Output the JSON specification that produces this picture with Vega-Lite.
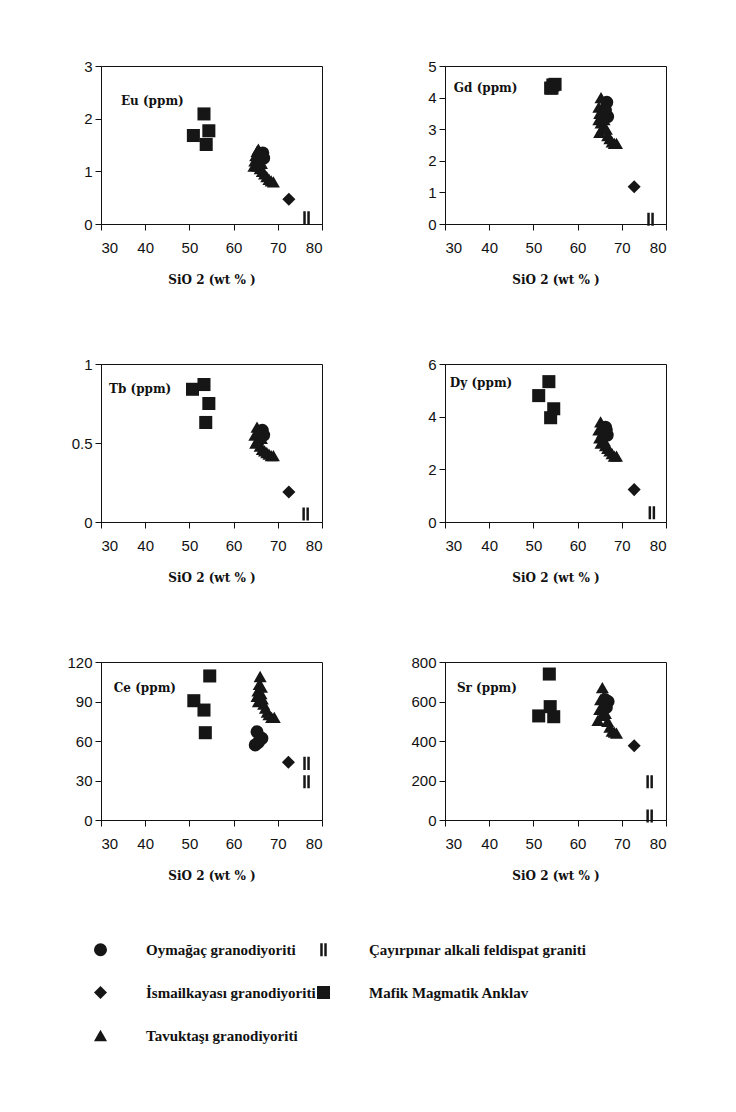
{
  "$schema": "https://vega.github.io/schema/vega-lite/v6.json",
  "padding": {"left": 66, "top": 58, "right": 5, "bottom": 5},
  "background": "white",
  "data": {"values": [
    {"el":"Eu","g":"Mafik Magmatik Anklav","sio2":53.3,"v":2.09},
    {"el":"Eu","g":"Mafik Magmatik Anklav","sio2":50.9,"v":1.68},
    {"el":"Eu","g":"Mafik Magmatik Anklav","sio2":54.4,"v":1.77},
    {"el":"Eu","g":"Mafik Magmatik Anklav","sio2":53.8,"v":1.51},
    {"el":"Eu","g":"Oymağaç granodiyoriti","sio2":66.6,"v":1.35},
    {"el":"Eu","g":"Oymağaç granodiyoriti","sio2":66.2,"v":1.3},
    {"el":"Eu","g":"Oymağaç granodiyoriti","sio2":66.8,"v":1.25},
    {"el":"Eu","g":"Tavuktaşı granodiyoriti","sio2":64.6,"v":1.1},
    {"el":"Eu","g":"Tavuktaşı granodiyoriti","sio2":64.8,"v":1.2},
    {"el":"Eu","g":"Tavuktaşı granodiyoriti","sio2":65.0,"v":1.3},
    {"el":"Eu","g":"Tavuktaşı granodiyoriti","sio2":65.3,"v":1.38},
    {"el":"Eu","g":"Tavuktaşı granodiyoriti","sio2":65.6,"v":1.42},
    {"el":"Eu","g":"Tavuktaşı granodiyoriti","sio2":65.8,"v":1.25},
    {"el":"Eu","g":"Tavuktaşı granodiyoriti","sio2":65.5,"v":1.1},
    {"el":"Eu","g":"Tavuktaşı granodiyoriti","sio2":66.0,"v":1.05},
    {"el":"Eu","g":"Tavuktaşı granodiyoriti","sio2":66.3,"v":1.15},
    {"el":"Eu","g":"Tavuktaşı granodiyoriti","sio2":66.5,"v":1.0},
    {"el":"Eu","g":"Tavuktaşı granodiyoriti","sio2":67.0,"v":0.95},
    {"el":"Eu","g":"Tavuktaşı granodiyoriti","sio2":67.5,"v":0.9},
    {"el":"Eu","g":"Tavuktaşı granodiyoriti","sio2":68.0,"v":0.85},
    {"el":"Eu","g":"Tavuktaşı granodiyoriti","sio2":68.5,"v":0.82},
    {"el":"Eu","g":"Tavuktaşı granodiyoriti","sio2":69.0,"v":0.8},
    {"el":"Eu","g":"İsmailkayası granodiyoriti","sio2":72.5,"v":0.47},
    {"el":"Eu","g":"Çayırpınar alkali feldispat graniti","sio2":76.5,"v":0.12},

    {"el":"Gd","g":"Mafik Magmatik Anklav","sio2":53.9,"v":4.3},
    {"el":"Gd","g":"Mafik Magmatik Anklav","sio2":54.4,"v":4.4},
    {"el":"Gd","g":"Mafik Magmatik Anklav","sio2":54.9,"v":4.42},
    {"el":"Gd","g":"Mafik Magmatik Anklav","sio2":54.2,"v":4.3},
    {"el":"Gd","g":"Oymağaç granodiyoriti","sio2":66.6,"v":3.85},
    {"el":"Gd","g":"Oymağaç granodiyoriti","sio2":66.3,"v":3.6},
    {"el":"Gd","g":"Oymağaç granodiyoriti","sio2":66.8,"v":3.4},
    {"el":"Gd","g":"Tavuktaşı granodiyoriti","sio2":65.3,"v":4.0},
    {"el":"Gd","g":"Tavuktaşı granodiyoriti","sio2":64.8,"v":3.7},
    {"el":"Gd","g":"Tavuktaşı granodiyoriti","sio2":65.0,"v":3.5},
    {"el":"Gd","g":"Tavuktaşı granodiyoriti","sio2":64.8,"v":3.3},
    {"el":"Gd","g":"Tavuktaşı granodiyoriti","sio2":65.3,"v":3.2},
    {"el":"Gd","g":"Tavuktaşı granodiyoriti","sio2":65.5,"v":3.0},
    {"el":"Gd","g":"Tavuktaşı granodiyoriti","sio2":65.0,"v":2.9},
    {"el":"Gd","g":"Tavuktaşı granodiyoriti","sio2":65.8,"v":3.6},
    {"el":"Gd","g":"Tavuktaşı granodiyoriti","sio2":66.0,"v":3.3},
    {"el":"Gd","g":"Tavuktaşı granodiyoriti","sio2":66.5,"v":3.0},
    {"el":"Gd","g":"Tavuktaşı granodiyoriti","sio2":66.8,"v":2.8},
    {"el":"Gd","g":"Tavuktaşı granodiyoriti","sio2":67.3,"v":2.7},
    {"el":"Gd","g":"Tavuktaşı granodiyoriti","sio2":67.8,"v":2.6},
    {"el":"Gd","g":"Tavuktaşı granodiyoriti","sio2":68.3,"v":2.55},
    {"el":"Gd","g":"Tavuktaşı granodiyoriti","sio2":68.8,"v":2.55},
    {"el":"Gd","g":"İsmailkayası granodiyoriti","sio2":72.8,"v":1.18},
    {"el":"Gd","g":"Çayırpınar alkali feldispat graniti","sio2":76.5,"v":0.15},

    {"el":"Tb","g":"Mafik Magmatik Anklav","sio2":50.7,"v":0.84},
    {"el":"Tb","g":"Mafik Magmatik Anklav","sio2":53.3,"v":0.87},
    {"el":"Tb","g":"Mafik Magmatik Anklav","sio2":54.4,"v":0.75},
    {"el":"Tb","g":"Mafik Magmatik Anklav","sio2":53.7,"v":0.63},
    {"el":"Tb","g":"Oymağaç granodiyoriti","sio2":66.5,"v":0.58},
    {"el":"Tb","g":"Oymağaç granodiyoriti","sio2":66.8,"v":0.55},
    {"el":"Tb","g":"Tavuktaşı granodiyoriti","sio2":65.3,"v":0.6},
    {"el":"Tb","g":"Tavuktaşı granodiyoriti","sio2":64.8,"v":0.55},
    {"el":"Tb","g":"Tavuktaşı granodiyoriti","sio2":65.0,"v":0.5},
    {"el":"Tb","g":"Tavuktaşı granodiyoriti","sio2":65.5,"v":0.52},
    {"el":"Tb","g":"Tavuktaşı granodiyoriti","sio2":65.8,"v":0.57},
    {"el":"Tb","g":"Tavuktaşı granodiyoriti","sio2":66.0,"v":0.48},
    {"el":"Tb","g":"Tavuktaşı granodiyoriti","sio2":66.3,"v":0.53},
    {"el":"Tb","g":"Tavuktaşı granodiyoriti","sio2":66.5,"v":0.46},
    {"el":"Tb","g":"Tavuktaşı granodiyoriti","sio2":67.0,"v":0.45},
    {"el":"Tb","g":"Tavuktaşı granodiyoriti","sio2":67.5,"v":0.44},
    {"el":"Tb","g":"Tavuktaşı granodiyoriti","sio2":68.0,"v":0.43},
    {"el":"Tb","g":"Tavuktaşı granodiyoriti","sio2":68.5,"v":0.42},
    {"el":"Tb","g":"Tavuktaşı granodiyoriti","sio2":69.0,"v":0.42},
    {"el":"Tb","g":"İsmailkayası granodiyoriti","sio2":72.5,"v":0.19},
    {"el":"Tb","g":"Çayırpınar alkali feldispat graniti","sio2":76.3,"v":0.05},

    {"el":"Dy","g":"Mafik Magmatik Anklav","sio2":53.5,"v":5.33},
    {"el":"Dy","g":"Mafik Magmatik Anklav","sio2":51.2,"v":4.8},
    {"el":"Dy","g":"Mafik Magmatik Anklav","sio2":54.6,"v":4.3},
    {"el":"Dy","g":"Mafik Magmatik Anklav","sio2":53.9,"v":3.96},
    {"el":"Dy","g":"Oymağaç granodiyoriti","sio2":66.5,"v":3.5},
    {"el":"Dy","g":"Oymağaç granodiyoriti","sio2":66.7,"v":3.3},
    {"el":"Dy","g":"Oymağaç granodiyoriti","sio2":66.3,"v":3.6},
    {"el":"Dy","g":"Tavuktaşı granodiyoriti","sio2":65.2,"v":3.8},
    {"el":"Dy","g":"Tavuktaşı granodiyoriti","sio2":64.8,"v":3.5},
    {"el":"Dy","g":"Tavuktaşı granodiyoriti","sio2":65.0,"v":3.2},
    {"el":"Dy","g":"Tavuktaşı granodiyoriti","sio2":65.3,"v":3.0},
    {"el":"Dy","g":"Tavuktaşı granodiyoriti","sio2":65.5,"v":3.6},
    {"el":"Dy","g":"Tavuktaşı granodiyoriti","sio2":65.7,"v":3.4},
    {"el":"Dy","g":"Tavuktaşı granodiyoriti","sio2":66.0,"v":3.1},
    {"el":"Dy","g":"Tavuktaşı granodiyoriti","sio2":66.3,"v":2.9},
    {"el":"Dy","g":"Tavuktaşı granodiyoriti","sio2":66.8,"v":2.8},
    {"el":"Dy","g":"Tavuktaşı granodiyoriti","sio2":67.3,"v":2.7},
    {"el":"Dy","g":"Tavuktaşı granodiyoriti","sio2":67.8,"v":2.6},
    {"el":"Dy","g":"Tavuktaşı granodiyoriti","sio2":68.3,"v":2.5},
    {"el":"Dy","g":"Tavuktaşı granodiyoriti","sio2":68.8,"v":2.5},
    {"el":"Dy","g":"İsmailkayası granodiyoriti","sio2":72.8,"v":1.23},
    {"el":"Dy","g":"Çayırpınar alkali feldispat graniti","sio2":76.8,"v":0.35},

    {"el":"Ce","g":"Mafik Magmatik Anklav","sio2":54.6,"v":109.4},
    {"el":"Ce","g":"Mafik Magmatik Anklav","sio2":51.0,"v":90.6},
    {"el":"Ce","g":"Mafik Magmatik Anklav","sio2":53.3,"v":83.5},
    {"el":"Ce","g":"Mafik Magmatik Anklav","sio2":53.6,"v":66.3},
    {"el":"Ce","g":"Oymağaç granodiyoriti","sio2":65.3,"v":67},
    {"el":"Ce","g":"Oymağaç granodiyoriti","sio2":64.9,"v":57},
    {"el":"Ce","g":"Oymağaç granodiyoriti","sio2":66.4,"v":62},
    {"el":"Ce","g":"Oymağaç granodiyoriti","sio2":65.6,"v":59},
    {"el":"Ce","g":"Tavuktaşı granodiyoriti","sio2":66.0,"v":109},
    {"el":"Ce","g":"Tavuktaşı granodiyoriti","sio2":65.8,"v":103},
    {"el":"Ce","g":"Tavuktaşı granodiyoriti","sio2":66.3,"v":101},
    {"el":"Ce","g":"Tavuktaşı granodiyoriti","sio2":65.5,"v":98},
    {"el":"Ce","g":"Tavuktaşı granodiyoriti","sio2":65.3,"v":94},
    {"el":"Ce","g":"Tavuktaşı granodiyoriti","sio2":65.6,"v":90},
    {"el":"Ce","g":"Tavuktaşı granodiyoriti","sio2":66.2,"v":96},
    {"el":"Ce","g":"Tavuktaşı granodiyoriti","sio2":66.5,"v":92},
    {"el":"Ce","g":"Tavuktaşı granodiyoriti","sio2":66.8,"v":88},
    {"el":"Ce","g":"Tavuktaşı granodiyoriti","sio2":67.2,"v":85},
    {"el":"Ce","g":"Tavuktaşı granodiyoriti","sio2":67.6,"v":82},
    {"el":"Ce","g":"Tavuktaşı granodiyoriti","sio2":68.0,"v":80},
    {"el":"Ce","g":"Tavuktaşı granodiyoriti","sio2":68.6,"v":78},
    {"el":"Ce","g":"Tavuktaşı granodiyoriti","sio2":69.2,"v":78},
    {"el":"Ce","g":"İsmailkayası granodiyoriti","sio2":72.4,"v":43.8},
    {"el":"Ce","g":"Çayırpınar alkali feldispat graniti","sio2":76.5,"v":43},
    {"el":"Ce","g":"Çayırpınar alkali feldispat graniti","sio2":76.5,"v":29},

    {"el":"Sr","g":"Mafik Magmatik Anklav","sio2":53.6,"v":739},
    {"el":"Sr","g":"Mafik Magmatik Anklav","sio2":51.2,"v":527},
    {"el":"Sr","g":"Mafik Magmatik Anklav","sio2":53.8,"v":574},
    {"el":"Sr","g":"Mafik Magmatik Anklav","sio2":54.6,"v":523},
    {"el":"Sr","g":"Oymağaç granodiyoriti","sio2":66.9,"v":600},
    {"el":"Sr","g":"Oymağaç granodiyoriti","sio2":66.5,"v":570},
    {"el":"Sr","g":"Oymağaç granodiyoriti","sio2":66.2,"v":610},
    {"el":"Sr","g":"Tavuktaşı granodiyoriti","sio2":65.6,"v":670},
    {"el":"Sr","g":"Tavuktaşı granodiyoriti","sio2":65.8,"v":620},
    {"el":"Sr","g":"Tavuktaşı granodiyoriti","sio2":65.2,"v":610},
    {"el":"Sr","g":"Tavuktaşı granodiyoriti","sio2":65.0,"v":560},
    {"el":"Sr","g":"Tavuktaşı granodiyoriti","sio2":64.6,"v":505},
    {"el":"Sr","g":"Tavuktaşı granodiyoriti","sio2":65.5,"v":530},
    {"el":"Sr","g":"Tavuktaşı granodiyoriti","sio2":66.0,"v":580},
    {"el":"Sr","g":"Tavuktaşı granodiyoriti","sio2":66.3,"v":540},
    {"el":"Sr","g":"Tavuktaşı granodiyoriti","sio2":66.8,"v":500},
    {"el":"Sr","g":"Tavuktaşı granodiyoriti","sio2":67.3,"v":470},
    {"el":"Sr","g":"Tavuktaşı granodiyoriti","sio2":67.8,"v":450},
    {"el":"Sr","g":"Tavuktaşı granodiyoriti","sio2":68.3,"v":445},
    {"el":"Sr","g":"Tavuktaşı granodiyoriti","sio2":68.8,"v":440},
    {"el":"Sr","g":"İsmailkayası granodiyoriti","sio2":72.8,"v":376},
    {"el":"Sr","g":"Çayırpınar alkali feldispat graniti","sio2":76.3,"v":194},
    {"el":"Sr","g":"Çayırpınar alkali feldispat graniti","sio2":76.3,"v":20}
  ]},
  "columns": 2,
  "spacing": {"row": 70, "column": 87},
  "resolve": {"scale": {"shape": "shared"}},
  "concat": [
    {"width": 221, "height": 158, "layer": [
      {"transform": [{"filter": "datum.el == 'Eu'"}],
       "mark": {"type": "point", "filled": true, "opacity": 1, "size": 170, "color": "#161616"},
       "encoding": {
         "x": {"field": "sio2", "type": "quantitative", "scale": {"domain": [30, 80], "nice": false, "zero": false}, "axis": {"values": [30, 40, 50, 60, 70, 80], "tickCount": 20, "title": "SiO 2 (wt % )"}},
         "y": {"field": "v", "type": "quantitative", "scale": {"domain": [0, 3], "nice": false}, "axis": {"values": [0, 1, 2, 3], "tickCount": 20, "title": null}},
         "shape": {"field": "g", "type": "nominal", "title": null,
           "scale": {"domain": ["Oymağaç granodiyoriti", "Çayırpınar alkali feldispat graniti", "İsmailkayası granodiyoriti", "Mafik Magmatik Anklav", "Tavuktaşı granodiyoriti"],
                     "range": ["circle", "M-0.5,-1H-0.12V1H-0.5Z M0.12,-1H0.5V1H0.12Z", "diamond", "square", "triangle-up"]}}
       }},
      {"data": {"values": [{}]}, "mark": {"type": "text", "text": "Eu (ppm)", "align": "left", "baseline": "middle", "font": "DejaVu Serif", "fontWeight": "bold", "fontSize": 12, "color": "#111"},
       "encoding": {"x": {"datum": 34.5}, "y": {"datum": 2.33}}}
    ]},
    {"width": 221, "height": 158, "layer": [
      {"transform": [{"filter": "datum.el == 'Gd'"}],
       "mark": {"type": "point", "filled": true, "opacity": 1, "size": 170, "color": "#161616"},
       "encoding": {
         "x": {"field": "sio2", "type": "quantitative", "scale": {"domain": [30, 80], "nice": false, "zero": false}, "axis": {"values": [30, 40, 50, 60, 70, 80], "tickCount": 20, "title": "SiO 2 (wt % )"}},
         "y": {"field": "v", "type": "quantitative", "scale": {"domain": [0, 5], "nice": false}, "axis": {"values": [0, 1, 2, 3, 4, 5], "tickCount": 20, "title": null}},
         "shape": {"field": "g", "type": "nominal", "title": null}
       }},
      {"data": {"values": [{}]}, "mark": {"type": "text", "text": "Gd (ppm)", "align": "left", "baseline": "middle", "font": "DejaVu Serif", "fontWeight": "bold", "fontSize": 12, "color": "#111"},
       "encoding": {"x": {"datum": 32}, "y": {"datum": 4.3}}}
    ]},
    {"width": 221, "height": 158, "layer": [
      {"transform": [{"filter": "datum.el == 'Tb'"}],
       "mark": {"type": "point", "filled": true, "opacity": 1, "size": 170, "color": "#161616"},
       "encoding": {
         "x": {"field": "sio2", "type": "quantitative", "scale": {"domain": [30, 80], "nice": false, "zero": false}, "axis": {"values": [30, 40, 50, 60, 70, 80], "tickCount": 20, "title": "SiO 2 (wt % )"}},
         "y": {"field": "v", "type": "quantitative", "scale": {"domain": [0, 1], "nice": false}, "axis": {"values": [0, 0.5, 1], "tickCount": 20, "title": null}},
         "shape": {"field": "g", "type": "nominal", "title": null}
       }},
      {"data": {"values": [{}]}, "mark": {"type": "text", "text": "Tb (ppm)", "align": "left", "baseline": "middle", "font": "DejaVu Serif", "fontWeight": "bold", "fontSize": 12, "color": "#111"},
       "encoding": {"x": {"datum": 31.8}, "y": {"datum": 0.84}}}
    ]},
    {"width": 221, "height": 158, "layer": [
      {"transform": [{"filter": "datum.el == 'Dy'"}],
       "mark": {"type": "point", "filled": true, "opacity": 1, "size": 170, "color": "#161616"},
       "encoding": {
         "x": {"field": "sio2", "type": "quantitative", "scale": {"domain": [30, 80], "nice": false, "zero": false}, "axis": {"values": [30, 40, 50, 60, 70, 80], "tickCount": 20, "title": "SiO 2 (wt % )"}},
         "y": {"field": "v", "type": "quantitative", "scale": {"domain": [0, 6], "nice": false}, "axis": {"values": [0, 2, 4, 6], "tickCount": 20, "title": null}},
         "shape": {"field": "g", "type": "nominal", "title": null}
       }},
      {"data": {"values": [{}]}, "mark": {"type": "text", "text": "Dy (ppm)", "align": "left", "baseline": "middle", "font": "DejaVu Serif", "fontWeight": "bold", "fontSize": 12, "color": "#111"},
       "encoding": {"x": {"datum": 31.1}, "y": {"datum": 5.27}}}
    ]},
    {"width": 221, "height": 158, "layer": [
      {"transform": [{"filter": "datum.el == 'Ce'"}],
       "mark": {"type": "point", "filled": true, "opacity": 1, "size": 170, "color": "#161616"},
       "encoding": {
         "x": {"field": "sio2", "type": "quantitative", "scale": {"domain": [30, 80], "nice": false, "zero": false}, "axis": {"values": [30, 40, 50, 60, 70, 80], "tickCount": 20, "title": "SiO 2 (wt % )"}},
         "y": {"field": "v", "type": "quantitative", "scale": {"domain": [0, 120], "nice": false}, "axis": {"values": [0, 30, 60, 90, 120], "tickCount": 20, "title": null}},
         "shape": {"field": "g", "type": "nominal", "title": null}
       }},
      {"data": {"values": [{}]}, "mark": {"type": "text", "text": "Ce (ppm)", "align": "left", "baseline": "middle", "font": "DejaVu Serif", "fontWeight": "bold", "fontSize": 12, "color": "#111"},
       "encoding": {"x": {"datum": 32.9}, "y": {"datum": 100}}}
    ]},
    {"width": 221, "height": 158, "layer": [
      {"transform": [{"filter": "datum.el == 'Sr'"}],
       "mark": {"type": "point", "filled": true, "opacity": 1, "size": 170, "color": "#161616"},
       "encoding": {
         "x": {"field": "sio2", "type": "quantitative", "scale": {"domain": [30, 80], "nice": false, "zero": false}, "axis": {"values": [30, 40, 50, 60, 70, 80], "tickCount": 20, "title": "SiO 2 (wt % )"}},
         "y": {"field": "v", "type": "quantitative", "scale": {"domain": [0, 800], "nice": false}, "axis": {"values": [0, 200, 400, 600, 800], "tickCount": 20, "title": null}},
         "shape": {"field": "g", "type": "nominal", "title": null}
       }},
      {"data": {"values": [{}]}, "mark": {"type": "text", "text": "Sr (ppm)", "align": "left", "baseline": "middle", "font": "DejaVu Serif", "fontWeight": "bold", "fontSize": 12, "color": "#111"},
       "encoding": {"x": {"datum": 32.7}, "y": {"datum": 668}}}
    ]}
  ],
  "config": {
    "view": {"stroke": "#111", "strokeWidth": 1},
    "axis": {
      "grid": false, "domainColor": "#111", "tickColor": "#111", "tickSize": 6, "labelOverlap": false,
      "labelFont": "Liberation Sans", "labelFontSize": 15, "labelColor": "#111", "format": "~f",
      "titleFont": "DejaVu Serif", "titleFontSize": 12, "titleFontWeight": "bold", "titleColor": "#111"
    },
    "axisX": {"labelPadding": 10, "titlePadding": 19},
    "axisY": {"labelPadding": 3},
    "legend": {
      "orient": "none", "legendX": -8, "legendY": 876, "columns": 2, "direction": "horizontal",
      "symbolSize": 170, "symbolType": "circle", "symbolFillColor": "#161616", "symbolStrokeColor": "#161616", "symbolStrokeWidth": 0,
      "labelFont": "Liberation Serif", "labelFontSize": 15, "labelFontWeight": "bold", "labelColor": "#111",
      "labelOffset": 38, "rowPadding": 27, "columnPadding": -3, "labelLimit": 300
    }
  }
}
